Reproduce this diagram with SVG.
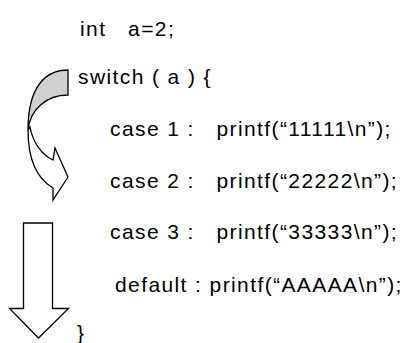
<svg xmlns="http://www.w3.org/2000/svg" width="414" height="343" viewBox="0 0 414 343">
<style>
text{font-family:"Liberation Sans",Arial,sans-serif;font-size:21px;letter-spacing:1.4px;fill:#000}
.ar{stroke:#000;stroke-width:1.3;stroke-linejoin:miter}
</style>
<rect width="414" height="343" fill="#fff"/>
<g id="code">
<text x="80" y="36" xml:space="preserve">int   a=2;</text>
<text x="78" y="84">switch ( a ) {</text>
<text x="110" y="136" xml:space="preserve">case 1 :   printf(“11111\n”);</text>
<text x="110" y="188" xml:space="preserve">case 2 :   printf(“22222\n”);</text>
<text x="110" y="239" xml:space="preserve">case 3 :   printf(“33333\n”);</text>
<text x="115" y="292">default : printf(“AAAAA\n”);</text>
<text x="77" y="340">}</text>
</g>
<g id="curved-arrow">
<path class="ar" fill="#fff" d="M30,127 C33,143 42,155 53,160 L55,148 L68,177 L53,200 L53,188 C36,178 28,158 28,130 Z"/>
<path class="ar" fill="#d0d0d0" d="M68,70 C46,70 28,86 28,130 C30,110 46,95 68,95 Z"/>
</g>
<g id="down-arrow">
<path class="ar" fill="#fff" d="M23.5,223 H52.5 V308.5 H68.5 L38.5,338 L9.5,308.5 H23.5 Z"/>
</g>
</svg>
